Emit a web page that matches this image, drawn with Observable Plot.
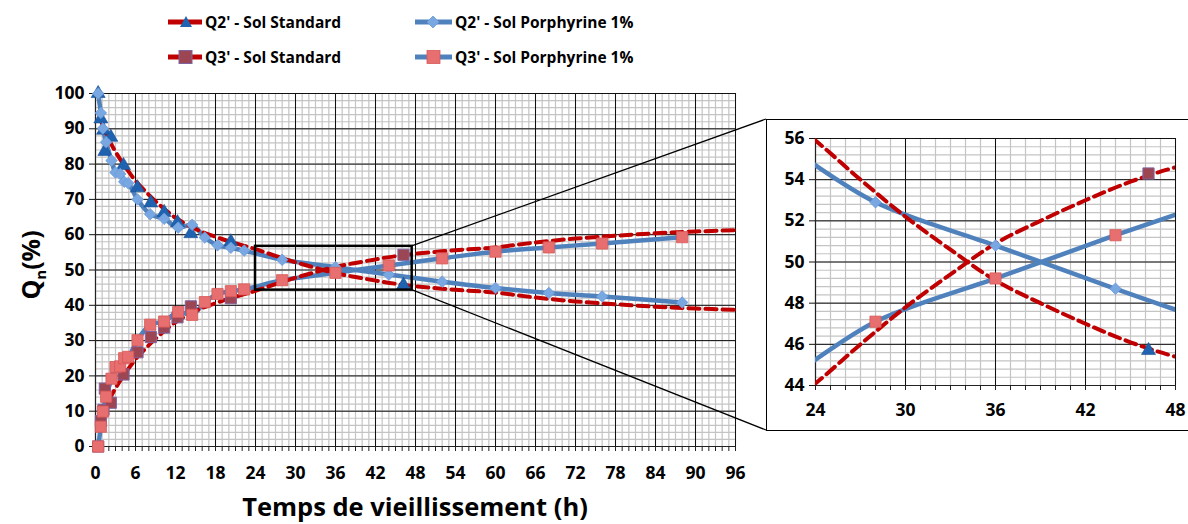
<!DOCTYPE html>
<html><head><meta charset="utf-8">
<script src="https://cdn.jsdelivr.net/npm/d3@7"></script>
<script src="https://cdn.jsdelivr.net/npm/@observablehq/plot@0.6"></script>
<style>
body{margin:0;background:#fff;}
#wrap{position:relative;width:1188px;height:524px;overflow:hidden;background:#fff;font-family:"Open Sans",sans-serif;font-weight:700;color:#000;}
.abs{position:absolute;}
.leg{position:absolute;display:flex;align-items:center;font-size:15.5px;white-space:nowrap;}
.leg svg{margin-right:3px;flex-shrink:0;}
#xtitle{position:absolute;left:0;width:830px;text-align:center;top:489px;font-size:25.5px;}
#ytitle{position:absolute;left:31px;top:265px;transform:translate(-50%,-50%) rotate(-90deg);font-size:25px;white-space:nowrap;}
#ytitle sub{font-size:15px;}
#insetFrame{position:absolute;left:766px;top:119px;width:440px;height:312px;border:1.5px solid #000;box-sizing:border-box;}
</style></head><body><div id="wrap"></div>
<script>
// ---------- DATA ----------
const seriesNames = ["Q2' - Sol Standard", "Q2' - Sol Porphyrine 1%", "Q3' - Sol Standard", "Q3' - Sol Porphyrine 1%"];

// Sol Standard (markers)
const stdTime = [0.4, 0.8, 1.2, 1.4, 2.3, 4.2, 6.3, 8.3, 10.3, 12.3, 14.3, 20.3, 46.2];
const q2Std   = [100, 92.8, 89.6, 83.6, 87.6, 79.6, 73.3, 69.0, 66.3, 63.4, 60.3, 58.0, 45.7];
const q3Std   = [0, 7.2, 10.4, 16.4, 12.4, 20.4, 26.7, 31.0, 33.7, 36.6, 39.7, 42.0, 54.3];

// Sol Porphyrine 1% (markers + smoothed line)
const porTime = [0.4, 0.8, 1.1, 1.6, 2.4, 3.0, 3.7, 4.3, 4.9, 6.3, 8.2, 10.3, 12.4, 14.5, 16.4, 18.3, 20.3, 22.3, 28, 36, 44, 52, 60, 68, 76, 88];
const q2Por   = [100, 94.5, 90.1, 86.2, 81.0, 77.6, 77.2, 75.0, 74.6, 70.0, 65.8, 64.5, 62.0, 62.8, 59.2, 57.0, 56.3, 55.5, 52.9, 50.8, 48.7, 46.7, 44.9, 43.5, 42.5, 40.8];
const q3Por   = [0, 5.6, 9.9, 14.1, 19.2, 22.5, 22.7, 25.0, 25.4, 30.1, 34.5, 35.4, 38.1, 37.3, 40.9, 43.2, 44.0, 44.5, 47.1, 49.2, 51.3, 53.3, 55.2, 56.4, 57.5, 59.3];

// Red dashed trend curves of Sol Standard
const fitTime = [1, 2, 3, 4, 5, 6, 8, 10, 12, 15, 18, 21, 24, 27, 30, 33, 36, 39, 42, 45, 48, 54, 60, 66, 72, 78, 84, 90, 96];
const q2Fit   = [91.5, 87, 83.5, 80.5, 77.8, 75.3, 71.3, 67.8, 64.8, 61.6, 59.4, 57.6, 55.9, 54.0, 52.2, 50.6, 49.1, 48.0, 47.0, 46.1, 45.4, 44.4, 43.6, 42.2, 41.1, 40.3, 39.6, 39.1, 38.7];
const q3Fit   = [8.5, 13, 16.5, 19.5, 22.2, 24.7, 28.7, 32.2, 35.2, 38.4, 40.6, 42.4, 44.1, 46.0, 47.8, 49.4, 50.9, 52.0, 53.0, 53.9, 54.6, 55.6, 56.4, 57.8, 58.9, 59.7, 60.4, 60.9, 61.3];

// Axes ticks
const mainXTicks = d3.range(0, 97, 6);
const mainYTicks = d3.range(0, 101, 10);
const insetXTicks = [24, 30, 36, 42, 48];
const insetYTicks = [44, 46, 48, 50, 52, 54, 56];
const zoomX = [24, 47.5];
const zoomY = [44.3, 56.7];
const insetXDomain = [24, 48];
const insetYDomain = [44, 56];

// ---------- STYLE ----------
const RED = "#c00000", BLUE = "#4f81bd";
const TRI = "#1f62b0", DIA = "#79a7e2", SQ_L = "#e86f6f", SQ_D = "#9c4653";
const font = "'Open Sans', sans-serif";
const TICK_FS = 17.5;

const tbl = (t, v) => t.map((x, i) => ({x, y: v[i]}));
const dStdQ2 = tbl(stdTime, q2Std), dStdQ3 = tbl(stdTime, q3Std);
const dPorQ2 = tbl(porTime, q2Por), dPorQ3 = tbl(porTime, q3Por);
const dFitQ2 = tbl(fitTime, q2Fit), dFitQ3 = tbl(fitTime, q3Fit);

function seriesMarks(clip, filt) {
  const f = filt || (() => true);
  return [
    Plot.line(dPorQ2, {x: "x", y: "y", stroke: BLUE, strokeWidth: 4.5, curve: "catmull-rom", clip}),
    Plot.line(dPorQ3, {x: "x", y: "y", stroke: BLUE, strokeWidth: 4.5, curve: "catmull-rom", clip}),
    Plot.line(dFitQ2, {x: "x", y: "y", stroke: RED, strokeWidth: 4, strokeDasharray: "11,6", curve: "catmull-rom", clip}),
    Plot.line(dFitQ3, {x: "x", y: "y", stroke: RED, strokeWidth: 4, strokeDasharray: "11,6", curve: "catmull-rom", clip}),
    Plot.dot(dStdQ3.filter(f), {x: "x", y: "y", symbol: "square", r: 6.3, fill: SQ_D, stroke: "#8064a2", strokeWidth: 1}),
    Plot.dot(dStdQ2.filter(f), {x: "x", y: "y", symbol: "triangle", r: 5.2, fill: TRI, stroke: "#1a4f90", strokeWidth: 0.6}),
    Plot.dot(dPorQ2.filter(f), {x: "x", y: "y", symbol: "diamond2", r: 5.2, fill: DIA, stroke: "#6a9ad8", strokeWidth: 0.8}),
    Plot.dot(dPorQ3.filter(f), {x: "x", y: "y", symbol: "square", r: 6.3, fill: SQ_L, stroke: "#d85858", strokeWidth: 0.8})
  ];
}

const wrap = document.getElementById("wrap");

// ---------- MAIN CHART ----------
const MAIN_LEFT = 0, MAIN_TOP = 80;
const main = Plot.plot({
  width: 760, height: 444,
  marginLeft: 95, marginRight: 25, marginTop: 13, marginBottom: 78,
  x: {domain: [0, 96]},
  y: {domain: [0, 100]},
  style: {fontFamily: font, fontSize: TICK_FS + "px", fontWeight: "bold", color: "#000", background: "transparent", overflow: "visible"},
  marks: [
    Plot.gridX(d3.range(0, 97, 1), {stroke: "#c4c4c4", strokeOpacity: 1, strokeWidth: 1.2}),
    Plot.gridY(d3.range(0, 101, 2), {stroke: "#c4c4c4", strokeOpacity: 1, strokeWidth: 1.2}),
    Plot.gridX(mainXTicks, {stroke: "#111", strokeOpacity: 1, strokeWidth: 1}),
    Plot.gridY(mainYTicks, {stroke: "#111", strokeOpacity: 1, strokeWidth: 1}),
    Plot.axisX(d3.range(0, 97, 1), {tickSize: 5, tickFormat: () => "", label: null, stroke: "#222"}),
    Plot.axisX(mainXTicks, {tickSize: 0, tickPadding: 20, label: null, fontSize: TICK_FS, fontWeight: "bold"}),
    Plot.axisY(mainYTicks, {tickSize: 6, tickPadding: 5, label: null, fontSize: TICK_FS, fontWeight: "bold", stroke: "#111"}),
    Plot.ruleY([0], {stroke: "#222", strokeWidth: 1.2}),
    Plot.ruleX([0], {stroke: "#222", strokeWidth: 1.2}),
    ...seriesMarks(false),
    Plot.rect([0], {x1: () => zoomX[0], x2: () => zoomX[1], y1: () => zoomY[0], y2: () => zoomY[1], fill: "none", stroke: "#000", strokeWidth: 2.5})
  ]
});
main.style.position = "absolute";
main.style.left = MAIN_LEFT + "px";
main.style.top = MAIN_TOP + "px";
wrap.appendChild(main);

// ---------- INSET ----------
const INS_LEFT = 766, INS_TOP = 119;
const frame = document.createElement("div");
frame.id = "insetFrame";
wrap.appendChild(frame);
const inRange = d => d.x >= insetXDomain[0] && d.x <= insetXDomain[1] && d.y >= insetYDomain[0] && d.y <= insetYDomain[1];
const inset = Plot.plot({
  width: 422, height: 312,
  marginLeft: 49, marginRight: 13, marginTop: 19, marginBottom: 46,
  x: {domain: insetXDomain},
  y: {domain: insetYDomain},
  style: {fontFamily: font, fontSize: TICK_FS + "px", fontWeight: "bold", color: "#000", background: "transparent", overflow: "visible"},
  marks: [
    Plot.gridX(d3.range(24, 48.01, 1), {stroke: "#c4c4c4", strokeOpacity: 1, strokeWidth: 1.2}),
    Plot.gridY(d3.range(44, 56.01, 0.4), {stroke: "#c4c4c4", strokeOpacity: 1, strokeWidth: 1.2}),
    Plot.gridX(insetXTicks, {stroke: "#111", strokeOpacity: 1, strokeWidth: 1}),
    Plot.gridY(insetYTicks, {stroke: "#111", strokeOpacity: 1, strokeWidth: 1}),
    Plot.axisX(d3.range(24, 48.01, 1), {tickSize: 5, tickFormat: () => "", label: null, stroke: "#222"}),
    Plot.axisX(insetXTicks, {tickSize: 0, tickPadding: 18, label: null, fontSize: TICK_FS, fontWeight: "bold"}),
    Plot.axisY(insetYTicks, {tickSize: 6, tickPadding: 5, label: null, fontSize: TICK_FS, fontWeight: "bold", stroke: "#111"}),
    Plot.ruleY([44], {stroke: "#222", strokeWidth: 1.2}),
    Plot.ruleX([24], {stroke: "#222", strokeWidth: 1.2}),
    ...seriesMarks("frame", inRange)
  ]
});
inset.style.position = "absolute";
inset.style.left = INS_LEFT + "px";
inset.style.top = INS_TOP + "px";
wrap.appendChild(inset);

// ---------- CONNECTOR LINES (from the zoom box to the inset frame) ----------
const sx = main.scale("x"), sy = main.scale("y");
const bx = MAIN_LEFT + sx.apply(zoomX[1]);
const byTop = MAIN_TOP + sy.apply(zoomY[1]);
const byBot = MAIN_TOP + sy.apply(zoomY[0]);
const ov = d3.select(wrap).append("svg").attr("class", "abs").attr("width", 1188).attr("height", 524)
  .style("left", "0px").style("top", "0px").style("pointer-events", "none");
ov.append("line").attr("x1", bx).attr("y1", byTop).attr("x2", INS_LEFT).attr("y2", INS_TOP).attr("stroke", "#000").attr("stroke-width", 1.3);
ov.append("line").attr("x1", bx).attr("y1", byBot).attr("x2", INS_LEFT).attr("y2", INS_TOP + 311).attr("stroke", "#000").attr("stroke-width", 1.3);

// ---------- LEGEND ----------
const legendItems = [
  {name: seriesNames[0], line: RED, sym: "tri", x: 168, y: 22},
  {name: seriesNames[1], line: BLUE, sym: "dia", x: 415, y: 22},
  {name: seriesNames[2], line: RED, sym: "sqd", x: 168, y: 57},
  {name: seriesNames[3], line: BLUE, sym: "sql", x: 415, y: 57}
];
legendItems.forEach(it => {
  const div = document.createElement("div");
  div.className = "leg";
  div.style.left = it.x + "px";
  div.style.top = (it.y - 11) + "px";
  div.style.height = "22px";
  let m = "";
  if (it.sym === "tri") m = `<path d="M18,5 L24,16 L12,16 Z" fill="${TRI}"/>`;
  if (it.sym === "dia") m = `<path d="M18,5 L24,11 L18,17 L12,11 Z" fill="${DIA}" stroke="#6a9ad8" stroke-width="0.8"/>`;
  if (it.sym === "sqd") m = `<rect x="11" y="4.5" width="13" height="13" fill="${SQ_D}" stroke="#8064a2" stroke-width="1"/>`;
  if (it.sym === "sql") m = `<rect x="12" y="4.5" width="13" height="13" fill="${SQ_L}" stroke="#d85858" stroke-width="0.8"/>`;
  const w = it.sym === "dia" || it.sym === "sql" ? 37 : 34;
  div.innerHTML = `<svg width="${w}" height="22" style="width:${w}px;height:22px"><line x1="0" y1="11" x2="${w}" y2="11" stroke="${it.line}" stroke-width="5"/>${m}</svg><span>${it.name}</span>`;
  wrap.appendChild(div);
});

// ---------- AXIS TITLES ----------
const xt = document.createElement("div");
xt.id = "xtitle";
xt.textContent = "Temps de vieillissement (h)";
wrap.appendChild(xt);
const yt = document.createElement("div");
yt.id = "ytitle";
yt.innerHTML = "Q<sub>n</sub>(%)";
wrap.appendChild(yt);
</script>
</body></html>
